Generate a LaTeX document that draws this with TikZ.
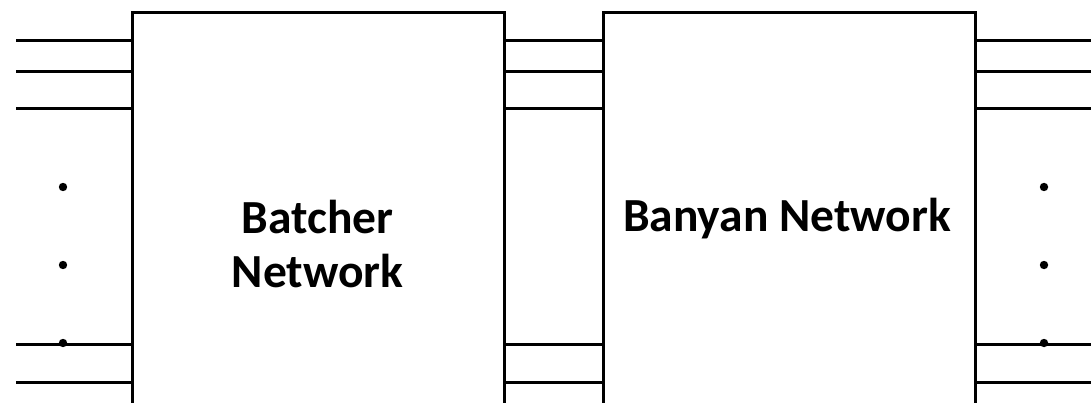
\documentclass[tikz,border=0pt]{standalone}
\usepackage{fontspec}
\setmainfont{Carlito}
\begin{document}
\begin{tikzpicture}[x=1pt,y=-1pt,
  netbox/.style={draw=black,line width=3.3pt,fill=white,minimum width=372pt,minimum height=420pt,inner sep=0pt,anchor=north west},
  wire/.style={draw=black,line width=3.3pt},
  lbl/.style={font=\fontsize{47.5}{54}\selectfont\bfseries,align=center,inner sep=0pt,anchor=base},
  dotmark/.style={fill=black}]
\useasboundingbox (0,0) rectangle (1091,403);
\clip (0,0) rectangle (1091,403);
\node[netbox] (batcher) at (131,11) {};
\node[netbox] (banyan) at (602,11) {};
\node[lbl] (tbatcher) at (317.5,287) {Batcher\\Network};
\node[lbl] (tbanyan) at (787,232) {Banyan Network};
% free ends
\foreach \y [count=\i] in {40.7,71.3,108.3,344.3,382.3}{
  \coordinate (lin\i) at (16,\y);
  \coordinate (rout\i) at (1095,\y);
  \draw[wire] (lin\i) -- (lin\i -| batcher.west);
  \draw[wire] (lin\i -| batcher.east) -- (lin\i -| banyan.west);
  \draw[wire] (lin\i -| banyan.east) -- (rout\i);
}
\foreach \y in {187,265,343}{
  \fill[dotmark] (63,\y) circle[radius=4.2pt];
  \fill[dotmark] (1044,\y) circle[radius=4.2pt];
}
\end{tikzpicture}
\end{document}
